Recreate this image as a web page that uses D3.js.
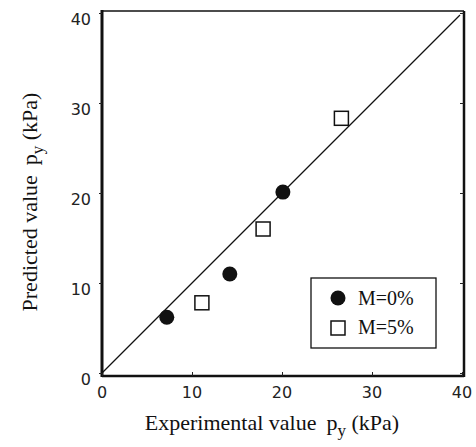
<!DOCTYPE html>
<html>
<head>
<script src="https://d3js.org/d3.v7.min.js"></script>
<style>
  body { margin: 0; background: #fff; }
</style>
</head>
<body>
<script>
// data
var seriesNames = ["M=0%", "M=5%"];
var expM0 = [7.2, 14.2, 20.1];
var predM0 = [6.2, 11.0, 20.1];
var expM5 = [11.1, 17.9, 26.6];
var predM5 = [7.8, 16.0, 28.3];
var tickVals = [0, 10, 20, 30, 40];
var lineEnds = [0, 40];

var w = 476, h = 447;
var mLeft = 102, mRight = 462, mTop = 13, mBottom = 373;

var x = d3.scaleLinear().domain([0, 40]).range([mLeft, mRight]);
var y = d3.scaleLinear().domain([0, 40]).range([mBottom, mTop]);

var svg = d3.select("body").append("svg").attr("width", w).attr("height", h);

// frame
var fr = svg.append("g").attr("stroke", "#111").attr("fill", "none");
fr.append("line").attr("x1", x(0)).attr("x2", x(40) + 2).attr("y1", y(40) - 2).attr("y2", y(40) - 2).attr("stroke-width", 1.5);
fr.append("line").attr("x1", x(0)).attr("x2", x(0)).attr("y1", y(40) - 3).attr("y2", y(0) + 4).attr("stroke-width", 3);
fr.append("line").attr("x1", x(40) + 2).attr("x2", x(40) + 2).attr("y1", y(40) - 2).attr("y2", y(0) + 4).attr("stroke-width", 2.5);
fr.append("line").attr("x1", x(0)).attr("x2", x(40) + 2).attr("y1", y(0) + 3).attr("y2", y(0) + 3).attr("stroke-width", 2.5);

// ticks
svg.append("g").attr("class", "ax").attr("transform", "translate(0," + (mBottom + 3) + ")")
  .call(d3.axisBottom(x).tickValues(tickVals).tickSize(-4).tickFormat(""));
svg.append("g").attr("class", "ax").attr("transform", "translate(" + mLeft + ",0)")
  .call(d3.axisLeft(y).tickValues(tickVals).tickSize(3).tickFormat(""));
svg.append("g").attr("class", "ax").attr("transform", "translate(" + (mRight + 2) + ",0)")
  .call(d3.axisRight(y).tickValues(tickVals).tickSize(-4).tickFormat(""));
svg.selectAll(".ax .domain").remove();
svg.selectAll(".ax .tick line").attr("stroke", "#222");

// tick labels
svg.append("g").selectAll("text").data(tickVals).enter().append("text")
  .attr("x", function(d) { return x(d); })
  .attr("y", mBottom + 25)
  .attr("text-anchor", "middle")
  .style("font-family", "DejaVu Sans")
  .style("font-size", "16px")
  .attr("fill", "#222")
  .text(function(d) { return d; });
svg.append("g").selectAll("text").data(tickVals).enter().append("text")
  .attr("x", 91)
  .attr("y", function(d) { return y(d) + 12; })
  .attr("text-anchor", "end")
  .style("font-family", "DejaVu Sans")
  .style("font-size", "16px")
  .attr("fill", "#222")
  .text(function(d) { return d; });

// 1:1 line
svg.append("line")
  .attr("x1", x(lineEnds[0])).attr("y1", y(lineEnds[0]))
  .attr("x2", x(lineEnds[1]) - 2).attr("y2", y(lineEnds[1]) + 2)
  .attr("stroke", "#111").attr("stroke-width", 1.3);

// points
var m0 = expM0.map(function(d, i) { return [d, predM0[i]]; });
var m5 = expM5.map(function(d, i) { return [d, predM5[i]]; });
svg.append("g").selectAll("circle").data(m0).enter().append("circle")
  .attr("cx", function(d) { return x(d[0]); })
  .attr("cy", function(d) { return y(d[1]); })
  .attr("r", 7.5).attr("fill", "#111");
svg.append("g").selectAll("rect").data(m5).enter().append("rect")
  .attr("x", function(d) { return x(d[0]) - 7; })
  .attr("y", function(d) { return y(d[1]) - 7; })
  .attr("width", 14).attr("height", 14)
  .attr("fill", "#fff").attr("stroke", "#111").attr("stroke-width", 1.5);

// legend
var lg = svg.append("g").attr("transform", "translate(311,278)");
lg.append("rect").attr("width", 125).attr("height", 70)
  .attr("fill", "#fff").attr("stroke", "#111").attr("stroke-width", 1.3);
lg.append("circle").attr("cx", 27).attr("cy", 20).attr("r", 7.5).attr("fill", "#111");
lg.append("rect").attr("x", 20).attr("y", 43).attr("width", 14).attr("height", 14)
  .attr("fill", "#fff").attr("stroke", "#111").attr("stroke-width", 1.5);
lg.selectAll("text.lab").data(seriesNames).enter().append("text")
  .attr("x", 47).attr("y", function(d, i) { return 27 + i * 29; })
  .style("font-family", "Liberation Serif").style("font-size", "20px")
  .attr("fill", "#111")
  .text(function(d) { return d; });

// axis titles
var xt = svg.append("text").attr("x", 272).attr("y", 430).attr("text-anchor", "middle")
  .style("font-family", "Liberation Serif").style("font-size", "22px").attr("fill", "#111");
xt.append("tspan").text("Experimental value");
xt.append("tspan").attr("dx", 10).text("p");
xt.append("tspan").attr("dy", 6).style("font-size", "17px").text("y");
xt.append("tspan").attr("dy", -6).text(" (kPa)");

var yt = svg.append("text").attr("transform", "translate(37,202) rotate(-90)").attr("text-anchor", "middle")
  .style("font-family", "Liberation Serif").style("font-size", "22px").attr("fill", "#111");
yt.append("tspan").text("Predicted value");
yt.append("tspan").attr("dx", 10).text("p");
yt.append("tspan").attr("dy", 6).style("font-size", "17px").text("y");
yt.append("tspan").attr("dy", -6).text(" (kPa)");
</script>
</body>
</html>
